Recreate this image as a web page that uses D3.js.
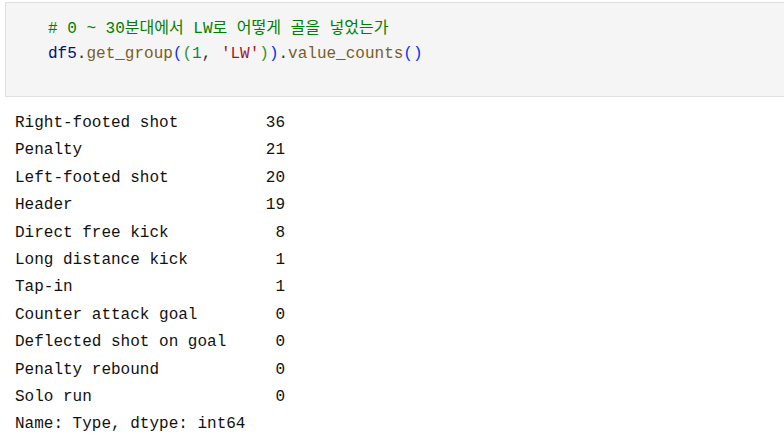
<!DOCTYPE html>
<html><head><meta charset="utf-8">
<script src="https://cdn.jsdelivr.net/npm/d3@7"></script>
<style>body{margin:0;background:#fff}</style></head>
<body><div id="nb"></div>
<script>
var names = ["Right-footed shot","Penalty","Left-footed shot","Header","Direct free kick","Long distance kick","Tap-in","Counter attack goal","Deflected shot on goal","Penalty rebound","Solo run"];
var counts = [36,21,20,19,8,1,1,0,0,0,0];
var footer = "Name: Type, dtype: int64";

var mono = "'Liberation Mono','Noto Sans CJK KR',monospace";
var svg = d3.select("#nb").append("svg").attr("width",784).attr("height",444);

svg.append("rect").attr("x",5.5).attr("y",2.5).attr("width",790).attr("height",94)
  .attr("fill","#f5f5f5").attr("stroke","#e0e0e0");

var code1 = [["# 0 ~ 30분대에서 LW로 어떻게 골을 넣었는가","#008000"]];
var code2 = [["df5","#001080"],[".","#333"],["get_group","#795e26"],["(","#0431fa"],["(","#319331"],["1","#098658"],[", ","#333"],["'LW'","#a31515"],[")","#319331"],[")","#0431fa"],[".","#333"],["value_counts","#795e26"],["()","#0431fa"]];

[[code1,33],[code2,58]].forEach(function(l){
  var t = svg.append("text").attr("x",48).attr("y",l[1]).attr("font-family",mono).attr("font-size",16);
  t.selectAll("tspan").data(l[0]).enter().append("tspan").attr("fill",function(d){return d[1];}).text(function(d){return d[0];});
});

var y = d3.scaleLinear().domain([0,11]).range([127,428.4]);
var g = svg.append("g").attr("font-family",mono).attr("font-size",16).attr("fill","#111");
g.selectAll("text.n").data(names).enter().append("text").attr("class","n")
  .attr("x",15).attr("y",function(d,i){return y(i);}).text(function(d){return d;});
g.selectAll("text.c").data(counts).enter().append("text").attr("class","c")
  .attr("x",285).attr("text-anchor","end").attr("y",function(d,i){return y(i);}).text(function(d){return d;});
g.append("text").attr("x",15).attr("y",y(11)).text(footer);
</script></body></html>
